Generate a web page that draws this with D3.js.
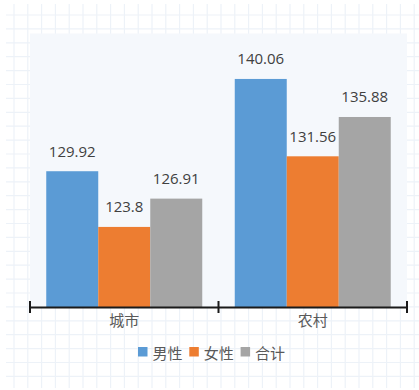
<!DOCTYPE html>
<html>
<head>
<meta charset="utf-8">
<script src="https://cdn.jsdelivr.net/npm/d3@7"></script>
<style>
    body { margin: 0; background: #ffffff; }
    svg { display: block; }
</style>
</head>
<body>
<div id="chart"></div>
<script>

/* chart data */
let categories = ["城市", "农村"];
let seriesNames = ["男性", "女性", "合计"];
let maleValues = [129.92, 140.06];
let femaleValues = [123.8, 131.56];
let totalValues = [126.91, 135.88];
let yDomain = [115, 145];

let seriesColors = ["#5B9BD5", "#ED7D31", "#A5A5A5"];
let seriesValues = [maleValues, femaleValues, totalValues];

let width = 419;
let height = 390;

/* plot area */
let plotLeft = 30;
let plotRight = 407;
let plotTop = 34;
let plotBottom = 307;

let svg = d3.select("#chart")
    .append("svg")
    .attr("width", width)
    .attr("height", height);

/* light grid in the page background */
let grid = svg.append("g");
d3.range(14, width, 13.8).forEach(x => {
    grid.append("line")
        .attr("x1", x).attr("x2", x)
        .attr("y1", 4).attr("y2", 388)
        .attr("stroke", "#edf2f8").attr("stroke-width", 1.2);
});
d3.range(15, 390, 13.9).forEach(y => {
    grid.append("line")
        .attr("x1", 6).attr("x2", width)
        .attr("y1", y).attr("y2", y)
        .attr("stroke", "#edf2f8").attr("stroke-width", 1.2);
});

/* plot panel */
svg.append("rect")
    .attr("x", plotLeft)
    .attr("y", plotTop - 0.5)
    .attr("width", plotRight - plotLeft)
    .attr("height", plotBottom - plotTop)
    .attr("fill", "#f5f8fc");

/* scales */
let x0 = d3.scaleBand()
    .domain(categories)
    .range([plotLeft, plotRight])
    .padding(0);

let x1 = d3.scaleBand()
    .domain(seriesNames)
    .range([0, x0.bandwidth()])
    .paddingInner(0)
    .paddingOuter(0.3125);

let yScale = d3.scaleLinear()
    .domain(yDomain)
    .range([plotBottom, plotTop]);

/* rows of bar data */
let rows = [];
categories.forEach((c, i) => {
    seriesNames.forEach((s, j) => {
        rows.push({ cat: c, series: s, value: seriesValues[j][i], color: seriesColors[j] });
    });
});

/* bars */
svg.selectAll("rect.bar")
    .data(rows)
    .enter()
    .append("rect")
    .attr("class", "bar")
    .attr("x", d => x0(d.cat) + x1(d.series))
    .attr("y", d => yScale(d.value))
    .attr("width", x1.bandwidth())
    .attr("height", d => plotBottom - yScale(d.value))
    .attr("fill", d => d.color);

/* value labels */
svg.selectAll("text.val")
    .data(rows)
    .enter()
    .append("text")
    .attr("class", "val")
    .attr("x", d => x0(d.cat) + x1(d.series) + x1.bandwidth() / 2)
    .attr("y", d => yScale(d.value) - 14.5)
    .attr("text-anchor", "middle")
    .style("font-family", "'Open Sans', 'Noto Sans', sans-serif")
    .style("font-size", "15px")
    .style("fill", "#404040")
    .text(d => d.value);

/* x axis with ticks between categories */
let axis = d3.axisBottom(x0)
    .tickSize(0)
    .tickPadding(8);

let axisG = svg.append("g")
    .attr("transform", "translate(0," + plotBottom + ")")
    .call(axis);

axisG.select(".domain")
    .attr("stroke", "#1a1a1a")
    .attr("stroke-width", 2);

axisG.selectAll(".tick text")
    .style("font-family", "'Noto Sans CJK SC', sans-serif")
    .style("font-size", "15px")
    .style("fill", "#595959");

let boundaries = categories.map(c => x0(c)).concat([x0.range()[1]]);
axisG.selectAll("line.sep")
    .data(boundaries)
    .enter()
    .append("line")
    .attr("class", "sep")
    .attr("x1", d => d).attr("x2", d => d)
    .attr("y1", -6).attr("y2", 6)
    .attr("stroke", "#1a1a1a")
    .attr("stroke-width", 2);

/* legend */
let legendX = 138;
let legendY = 352;
let itemWidth = 51.3;

let legend = svg.append("g");
seriesNames.forEach((name, i) => {
    let gx = legendX + i * itemWidth;
    legend.append("rect")
        .attr("x", gx)
        .attr("y", legendY - 5)
        .attr("width", 9.5)
        .attr("height", 9.5)
        .attr("fill", seriesColors[i]);
    legend.append("text")
        .attr("x", gx + 14.5)
        .attr("y", legendY)
        .attr("dominant-baseline", "central")
        .style("font-family", "'Noto Sans CJK SC', sans-serif")
        .style("font-size", "15px")
        .style("fill", "#595959")
        .text(name);
});

</script>
</body>
</html>
